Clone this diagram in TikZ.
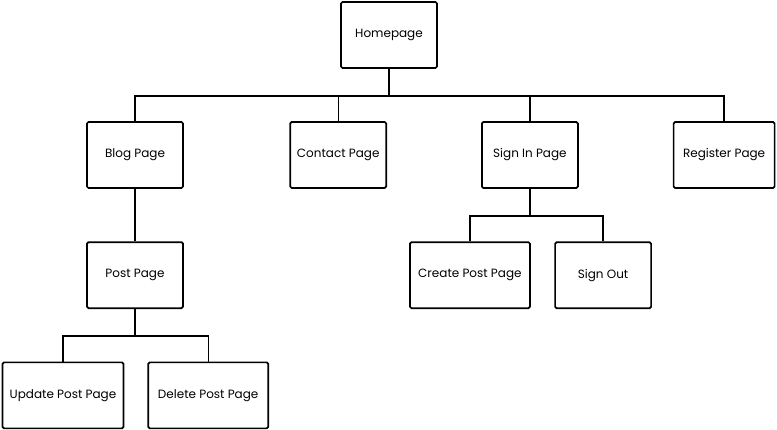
\documentclass[tikz,border=0pt]{standalone}
\usepackage{fontspec}
\setmainfont{Poppins}
\usetikzlibrary{positioning,calc}

\begin{document}
\begin{tikzpicture}[
    x=1pt,y=1pt,
    page/.style={draw,line width=1.7pt,rounded corners=1.5pt,fill=white,align=center,minimum width=96pt,minimum height=66pt,font=\fontsize{12}{14}\selectfont},
    widepage/.style={page,minimum width=121pt},
    link/.style={line width=1.4pt}
  ]
    \useasboundingbox (0,0) rectangle (777,430);
    \node[page] (home) at (389,395) {Homepage};
    \node[page] (blog) at (135,275) {Blog Page};
    \node[page,right=105.5pt of blog] (contact) {Contact Page};
    \node[page,right=94pt of contact] (signin) {Sign In Page};
    \node[page,minimum width=101pt,right=94pt of signin] (register) {Register Page};
    \node[page,below=52.5pt of blog] (post) {Post Page};
    \node[widepage,below=52.5pt of post,xshift=-72pt] (update) {Update Post Page};
    \node[page,minimum width=120pt,right=23pt of update] (delete) {Delete Post Page};
    \node[page,minimum width=120pt,below=52.5pt of signin,xshift=-60pt] (create) {Create Post Page};
    \node[page,right=23.5pt of create] (signout) {Sign Out};
    % homepage branch
    \coordinate (homebar) at ($(home.south)+(0,-27pt)$);
    \draw[link] (home.south) -- (homebar);
    \draw[link] (blog.north) |- (homebar) -| (register.north);
    \draw[link] (contact.north) -- (contact.north |- homebar);
    \draw[link] (signin.north) -- (signin.north |- homebar);
    \draw[link] (blog) -- (post);
    % sign in branch
    \coordinate (signbar) at ($(signin.south)+(0,-27pt)$);
    \draw[link] (signin.south) -- (signbar);
    \draw[link] (create.north) |- (signbar) -| (signout.north);
    % post branch
    \coordinate (postbar) at ($(post.south)+(0,-27pt)$);
    \draw[link] (post.south) -- (postbar);
    \draw[link] (update.north) |- (postbar) -| (delete.north);
  \end{tikzpicture}
\end{document}
